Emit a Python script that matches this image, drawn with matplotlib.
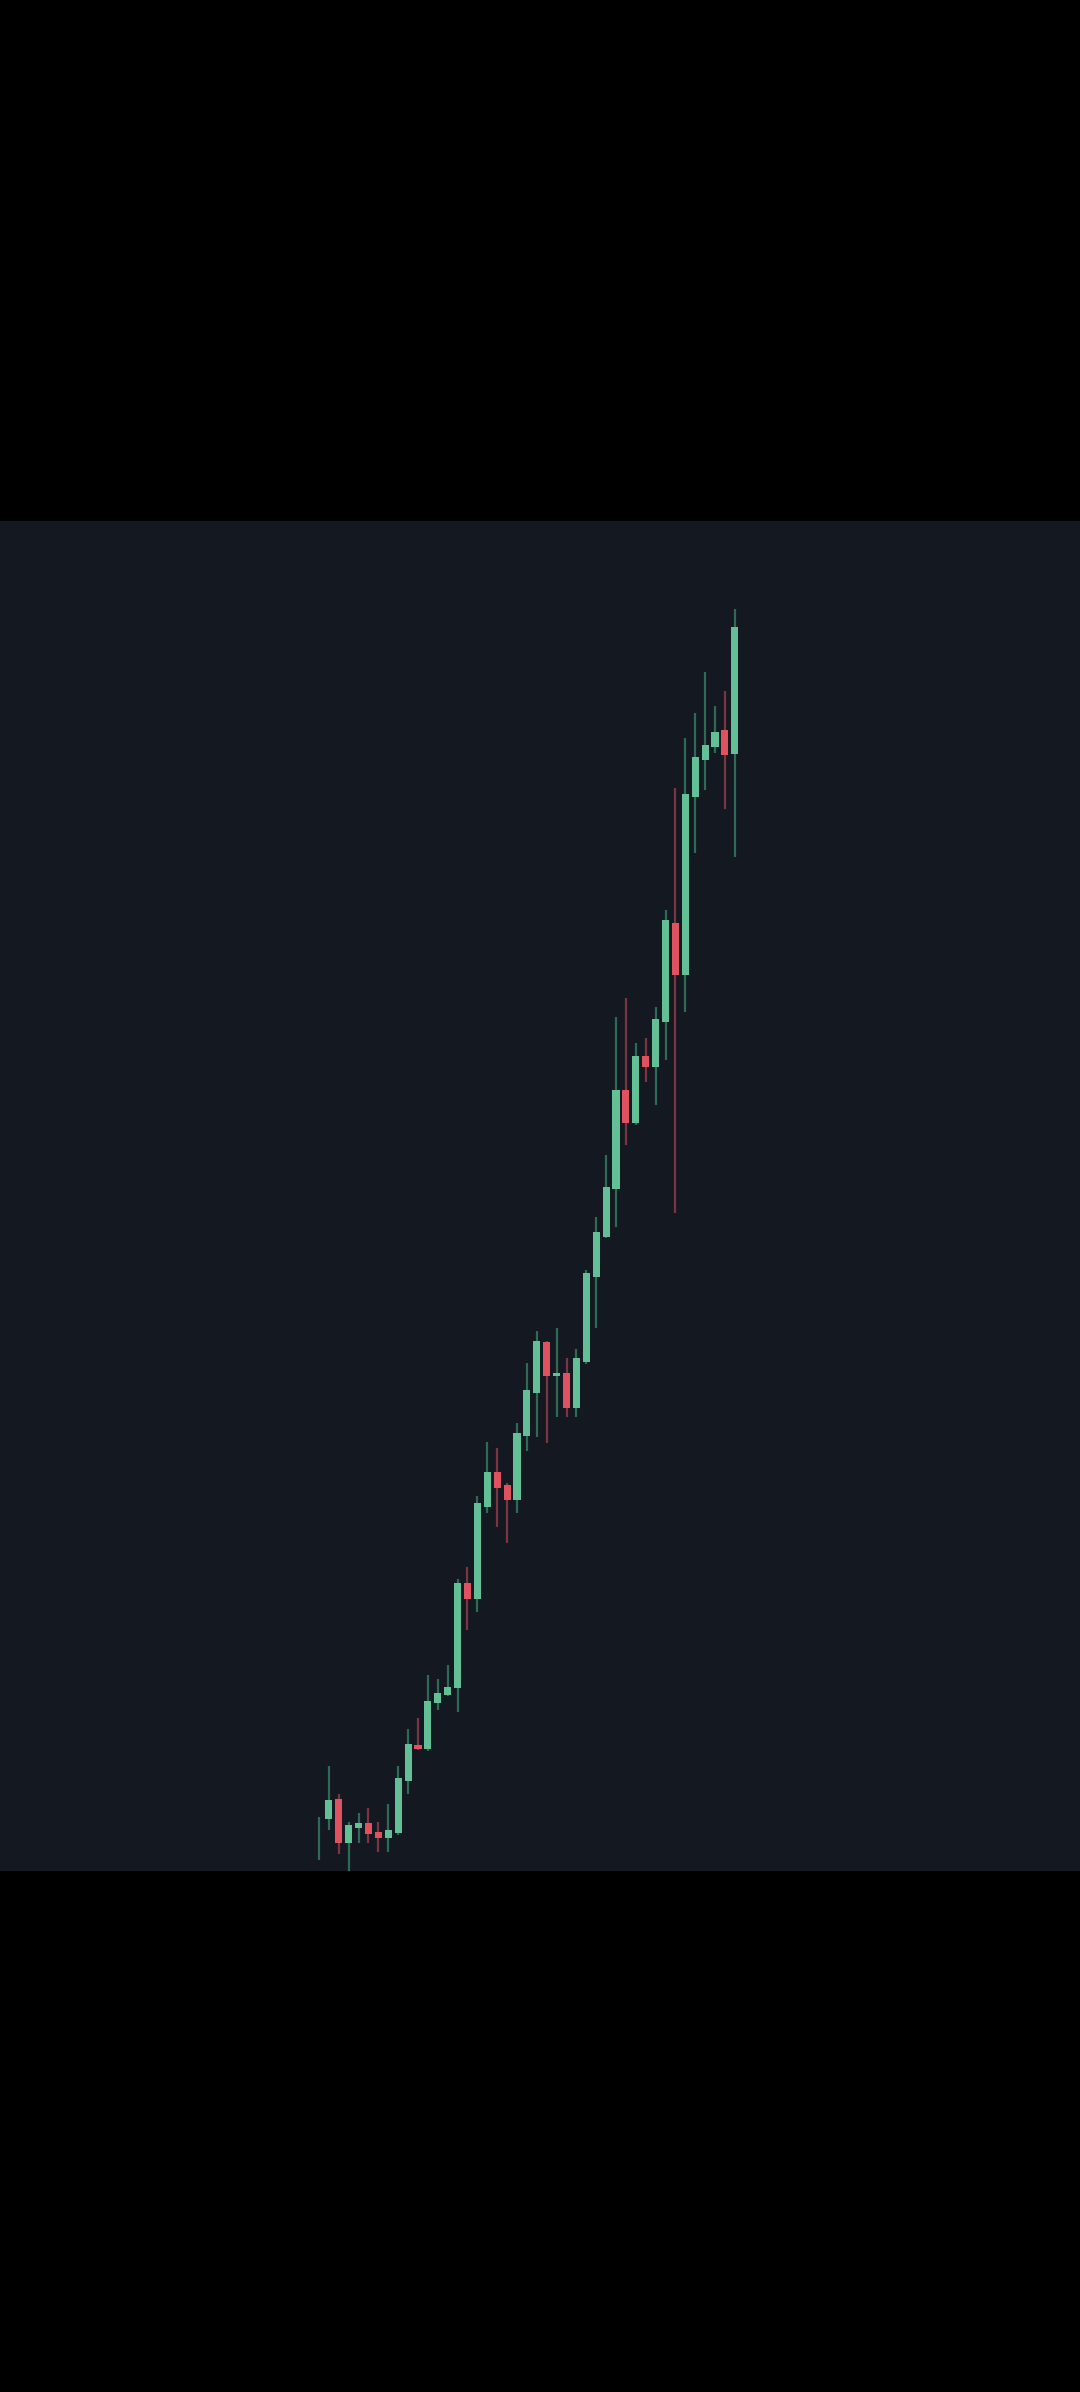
import numpy as np
from matplotlib import pyplot as plt

# candele (prezzo relativo)
opens = [35, 52, 72, 28, 43, 48, 39, 33, 38, 90, 126, 122, 168, 176, 183,
         288, 272, 364, 399, 386, 371, 435, 478, 529, 495, 498, 463, 509,
         594, 634, 682, 781, 748, 815, 804, 849, 948, 896, 1074, 1111, 1124,
         1141, 1117]
closes = [35, 71, 28, 46, 48, 37, 33, 41, 93, 127, 122, 170, 178, 184, 288,
          272, 368, 399, 383, 371, 438, 481, 530, 495, 498, 463, 513, 598,
          639, 684, 781, 748, 815, 804, 852, 951, 896, 1077, 1114, 1126, 1139,
          1116, 1244]
highs = [54, 105, 77, 49, 58, 63, 49, 67, 105, 142, 153, 196, 192, 206, 292,
         304, 375, 429, 423, 388, 448, 508, 540, 530, 543, 513, 522, 601,
         654, 716, 854, 873, 828, 833, 864, 961, 1083, 1133, 1158, 1199, 1165,
         1180, 1262]
lows = [11, 41, 17, -4, 28, 28, 19, 19, 36, 77, 121, 120, 161, 175, 159,
        241, 259, 358, 344, 328, 358, 420, 434, 428, 454, 454, 454, 507,
        543, 633, 644, 726, 746, 789, 766, 811, 658, 859, 1018, 1081, 1118,
        1062, 1014]

BG = "#141821"
UP, DOWN = "#63c096", "#e0525f"
UP_W, DOWN_W = "#2e6a55", "#7a3541"

fig = plt.figure(figsize=(10.8, 23.92), dpi=100, facecolor="black")
ax = fig.add_axes([0, 521 / 2392, 1, 1350 / 2392])
ax.set_facecolor(BG)

x = np.arange(len(opens))
o = np.array(opens)
c = np.array(closes)
up = c >= o
body_lo = np.minimum(o, c)
body_h = np.abs(c - o).astype(float)
# le doji restano visibili come una sottile barra
body_h[(body_h > 0) & (body_h < 2)] = 2

ax.vlines(x[up], np.array(lows)[up], np.array(highs)[up], color=UP_W, lw=1.6, zorder=1)
ax.vlines(x[~up], np.array(lows)[~up], np.array(highs)[~up], color=DOWN_W, lw=1.6, zorder=1)
ax.bar(x[up], body_h[up], bottom=body_lo[up], width=0.72, color=UP, zorder=2)
ax.bar(x[~up], body_h[~up], bottom=body_lo[~up], width=0.72, color=DOWN, zorder=2)

step = 9.9
ax.set_xlim(-319 / step, (1080 - 319) / step)
ax.set_ylim(0, 1350)
ax.set_xticks([])
ax.set_yticks([])
for s in ax.spines.values():
    s.set_visible(False)

fig.savefig("out.png", dpi=100, facecolor="black")
